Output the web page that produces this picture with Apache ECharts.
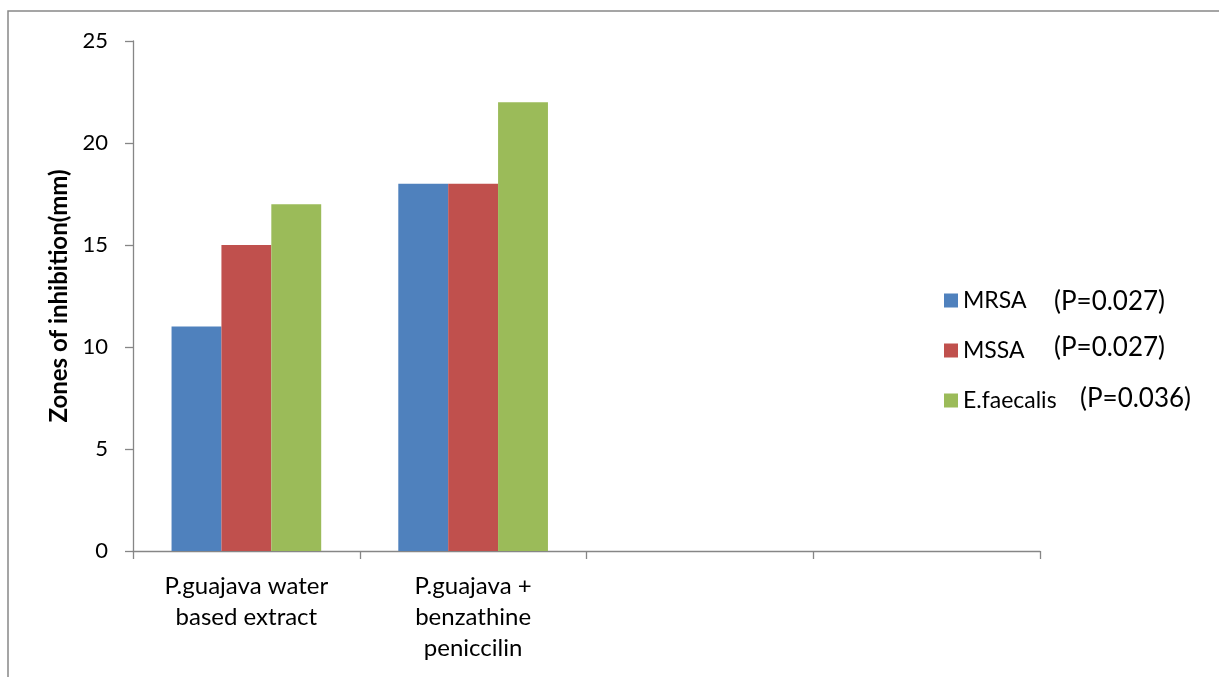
<!DOCTYPE html>
<html>
<head>
<meta charset="utf-8">
<script src="https://cdn.jsdelivr.net/npm/echarts@6/dist/echarts.min.js"></script>
<style>html,body{margin:0;padding:0;background:#fff}#c{width:1219px;height:677px}</style>
</head>
<body>
<div id="c"></div>
<script>
const categories = ['P.guajava water\nbased extract', 'P.guajava +\nbenzathine\npeniccilin', '', ''];
const seriesNames = ['MRSA', 'MSSA', 'E.faecalis'];
const mrsa = [11, 18, null, null];
const mssa = [15, 18, null, null];
const efaecalis = [17, 22, null, null];
const pValues = ['(P=0.027)', '(P=0.027)', '(P=0.036)'];
const yTicks = [0, 5, 10, 15, 20, 25];
const colors = ['#4F81BD', '#C0504D', '#9BBB59'];

const font = 'Lato, "Open Sans", sans-serif';
const axisColor = '#868686';
const chart = echarts.init(document.getElementById('c'));
chart.setOption({
  animation: false,
  grid: { left: 133, right: 179, top: 41, bottom: 126 },
  legend: {
    orient: 'vertical', left: 939, top: 284,
    itemWidth: 14, itemHeight: 14, itemGap: 27,
    icon: 'rect',
    textStyle: { fontFamily: font, fontSize: 23, color: '#000', padding: [0, 0, 0, 0] },
    data: seriesNames
  },
  xAxis: {
    type: 'category', data: categories,
    axisLine: { lineStyle: { color: axisColor, width: 1.3 } },
    axisTick: { show: true, interval: 0, length: 8, lineStyle: { color: axisColor, width: 1.3 } },
    axisLabel: { interval: 0, margin: 20, fontFamily: font, fontSize: 24, color: '#000', lineHeight: 31 }
  },
  yAxis: {
    type: 'value', min: yTicks[0], max: yTicks[yTicks.length - 1], interval: 5,
    name: 'Zones of inhibition(mm)', nameLocation: 'middle', nameGap: 61,
    nameTextStyle: { fontFamily: font, fontSize: 24, fontWeight: 'bold', color: '#000' },
    axisLine: { show: true, lineStyle: { color: axisColor, width: 1.3 } },
    axisTick: { show: true, length: 8, lineStyle: { color: axisColor, width: 1.3 } },
    axisLabel: { margin: 25, fontFamily: font, fontSize: 22, color: '#000' },
    splitLine: { show: false }
  },
  series: [
    { name: seriesNames[0], type: 'bar', data: mrsa, itemStyle: { color: colors[0] }, barGap: '0%', barCategoryGap: '34%' },
    { name: seriesNames[1], type: 'bar', data: mssa, itemStyle: { color: colors[1] }, barGap: '0%', barCategoryGap: '34%' },
    { name: seriesNames[2], type: 'bar', data: efaecalis, itemStyle: { color: colors[2] }, barGap: '0%', barCategoryGap: '34%' }
  ],
  graphic: [
    { type: 'polyline', shape: { points: [[8, 677], [8, 11], [1219, 11]] }, style: { stroke: '#888', lineWidth: 1.5, fill: null } },
    { type: 'text', left: 1054, top: 289, style: { text: pValues[0], font: '26px ' + font, fill: '#000' } },
    { type: 'text', left: 1054, top: 335, style: { text: pValues[1], font: '26px ' + font, fill: '#000' } },
    { type: 'text', left: 1080, top: 386, style: { text: pValues[2], font: '26px ' + font, fill: '#000' } }
  ]
});
</script>
</body>
</html>
